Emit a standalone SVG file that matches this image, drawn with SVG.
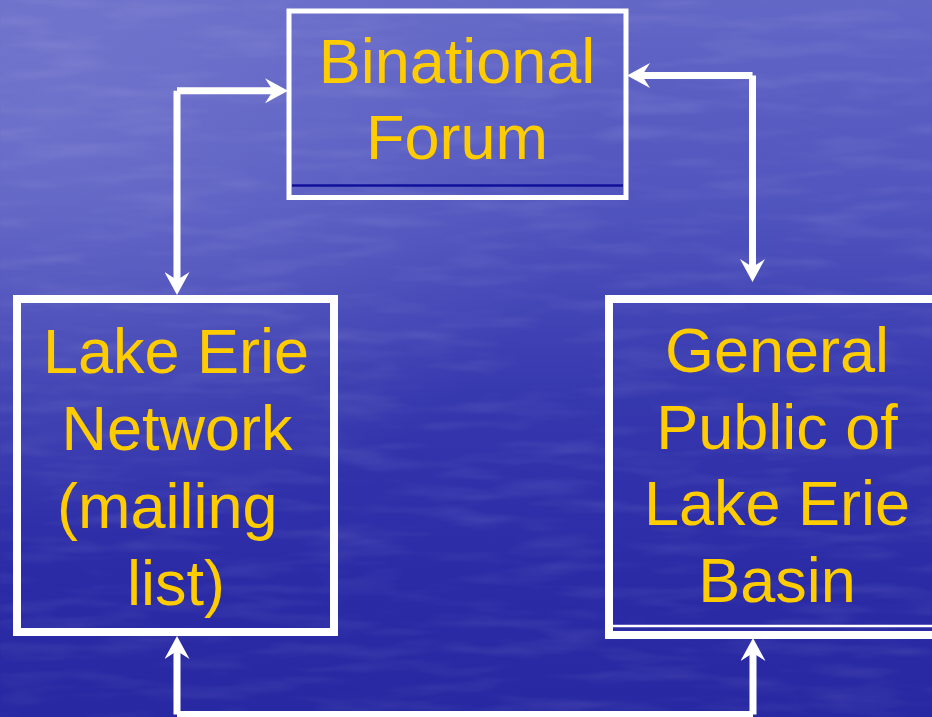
<svg xmlns="http://www.w3.org/2000/svg" width="932" height="717" viewBox="0 0 932 717">
  <defs>
    <linearGradient id="water" x1="0" y1="0" x2="0" y2="1">
      <stop offset="0" stop-color="#6367c6"/>
      <stop offset="0.3" stop-color="#4f53bd"/>
      <stop offset="0.55" stop-color="#3638ae"/>
      <stop offset="0.8" stop-color="#2b2ba6"/>
      <stop offset="1" stop-color="#2828a2"/>
    </linearGradient>
    <radialGradient id="glow" cx="0.05" cy="0.15" r="0.6">
      <stop offset="0" stop-color="#8a8cd6" stop-opacity="0.45"/>
      <stop offset="1" stop-color="#8a8cd6" stop-opacity="0"/>
    </radialGradient>
    <filter id="ripples" x="0" y="0" width="100%" height="100%">
      <feTurbulence type="fractalNoise" baseFrequency="0.01 0.07" numOctaves="3" seed="7" result="n"/>
      <feColorMatrix in="n" type="matrix" values="0 0 0 0 1  0 0 0 0 1  0 0 0 0 1  0 0 0 1.2 -0.55" result="w"/>
      <feGaussianBlur in="w" stdDeviation="1.2"/>
    </filter>
    <marker id="head" viewBox="0 0 23 25" markerWidth="23" markerHeight="25" refX="8" refY="12.5" orient="auto-start-reverse" markerUnits="userSpaceOnUse">
      <path d="M0,0 L23,12.5 L0,25 L8,12.5 Z" fill="#ffffff"/>
    </marker>
  </defs>
  <style>
    .frame { fill: none; stroke: #ffffff; }
    .rule { stroke-width: 2.5; }
    .label { font-family: "Liberation Sans", Arial, sans-serif; font-size: 63px; fill: #ffcc00; }
    .mid { text-anchor: middle; }
    .link { fill: none; stroke: #ffffff; stroke-width: 7; stroke-linecap: butt; marker-start: url(#head); marker-end: url(#head); }
  </style>

  <!-- lake-water backdrop -->
  <rect width="932" height="717" fill="url(#water)"/>
  <rect width="932" height="717" fill="url(#glow)"/>
  <rect width="932" height="717" filter="url(#ripples)" opacity="0.16"/>

  <g id="binational-forum">
    <rect class="frame" x="289" y="11" width="337" height="186.5" stroke-width="5"/>
    <line class="rule" x1="292" y1="185.5" x2="623" y2="185.5" stroke="#10109a"/>
    <text class="label mid" x="457" y="83">Binational</text>
    <text class="label mid" x="457" y="159">Forum</text>
  </g>

  <g id="lake-erie-network">
    <rect class="frame" x="17" y="299" width="317" height="333" stroke-width="8"/>
    <text class="label mid" x="176" y="373">Lake Erie</text>
    <text class="label mid" x="177" y="450">Network</text>
    <text class="label" x="57" y="527.5">(mailing</text>
    <text class="label mid" x="176" y="605">list)</text>
  </g>

  <g id="general-public">
    <rect class="frame" x="609" y="299" width="400" height="336" stroke-width="8"/>
    <line class="rule" x1="613" y1="626" x2="932" y2="626" stroke="#ffffff"/>
    <text class="label mid" x="777" y="372">General</text>
    <text class="label mid" x="777" y="448.5">Public of</text>
    <text class="label mid" x="777" y="525">Lake Erie</text>
    <text class="label mid" x="777" y="601.5">Basin</text>
  </g>

  <g id="connectors">
    <path class="link" d="M177,280 V90.8 M177,90.8 H273"/>
    <path class="link" d="M642,75.5 H752.5 M752.5,75.5 V267"/>
    <path class="link" d="M177,651 V714.5 M177,714.5 H753 M753,714.5 V653"/>
  </g>
</svg>
